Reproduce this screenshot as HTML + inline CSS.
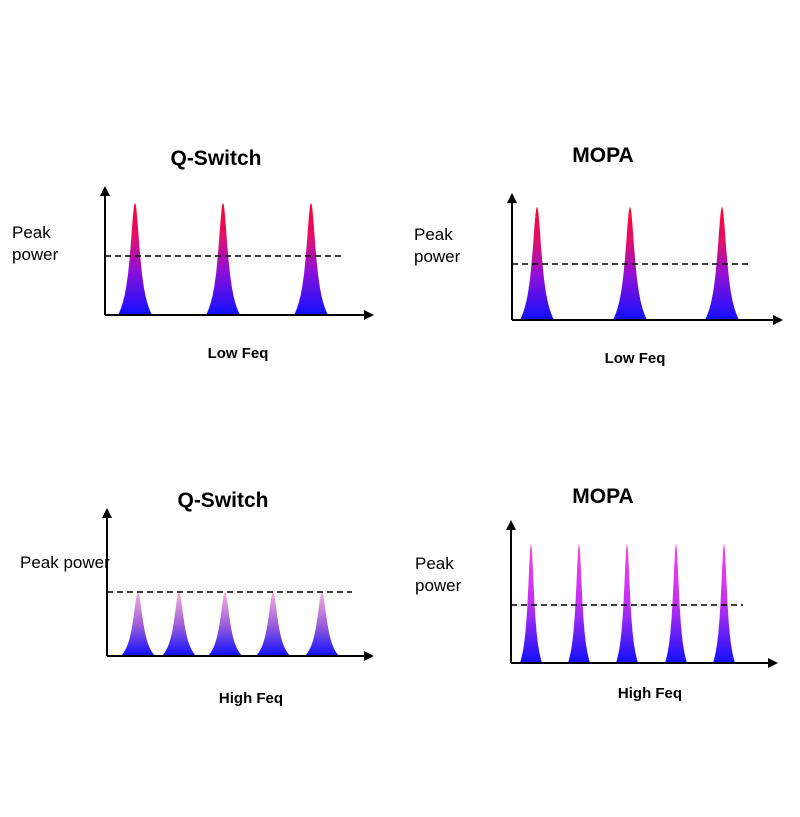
<!DOCTYPE html>
<html><head><meta charset="utf-8"><style>
body{margin:0;background:#fff}
svg{display:block}
text{font-family:"Liberation Sans",sans-serif}
.t{font-weight:bold;font-size:21px}
.x{font-weight:bold;font-size:15px}
.p{font-size:17px}
</style></head><body>
<svg id="s" width="800" height="817" viewBox="0 0 800 817">
<defs>
<linearGradient id="gr" x1="0" y1="0" x2="0" y2="1"><stop offset="0" stop-color="#ff0030"/><stop offset="0.3" stop-color="#e0106a"/><stop offset="0.6" stop-color="#9010d8"/><stop offset="1" stop-color="#1010ff"/></linearGradient>
<linearGradient id="gp" x1="0" y1="0" x2="0" y2="1"><stop offset="0" stop-color="#f5b0dc"/><stop offset="0.5" stop-color="#a060d8"/><stop offset="1" stop-color="#1010ff"/></linearGradient>
<linearGradient id="gm" x1="0" y1="0" x2="0" y2="1"><stop offset="0" stop-color="#ff40e8"/><stop offset="0.5" stop-color="#c030f0"/><stop offset="1" stop-color="#1010ff"/></linearGradient>
</defs>
<g id="peaks"></g>
<g stroke="#000" stroke-width="2" fill="none">
<path d="M105 315V192M105 315H368"/>
<path d="M512 320V199M512 320H777"/>
<path d="M107 656V514M107 656H368"/>
<path d="M511 663V526M511 663H772"/>
</g>
<g fill="#000">
<path d="M105 186l-5 10h10z"/><path d="M374 315l-10-5v10z"/>
<path d="M512 193l-5 10h10z"/><path d="M783 320l-10-5v10z"/>
<path d="M107 508l-5 10h10z"/><path d="M374 656l-10-5v10z"/>
<path d="M511 520l-5 10h10z"/><path d="M778 663l-10-5v10z"/>
</g>
<g stroke="#000" stroke-width="1.5" stroke-dasharray="6,4">
<path d="M105 256H345"/><path d="M512 264H752"/><path d="M107 592H352"/><path d="M511 605H743"/>
</g>
<text class="t" x="216" y="165" text-anchor="middle">Q-Switch</text>
<text class="t" x="603" y="162" text-anchor="middle">MOPA</text>
<text class="t" x="223" y="507" text-anchor="middle">Q-Switch</text>
<text class="t" x="603" y="503" text-anchor="middle">MOPA</text>
<text class="x" x="238" y="358" text-anchor="middle">Low Feq</text>
<text class="x" x="635" y="363" text-anchor="middle">Low Feq</text>
<text class="x" x="251" y="703" text-anchor="middle">High Feq</text>
<text class="x" x="650" y="698" text-anchor="middle">High Feq</text>
<text class="p" x="12" y="238">Peak</text><text class="p" x="12" y="260">power</text>
<text class="p" x="414" y="240">Peak</text><text class="p" x="414" y="262">power</text>
<text class="p" x="20" y="568">Peak power</text>
<text class="p" x="415" y="569">Peak</text><text class="p" x="415" y="591">power</text>
</svg>
<script>
var g=document.getElementById('peaks'),ns='http://www.w3.org/2000/svg';
function pk(cx,yb,yt,hw,fill){
 var pts=[],n=50,h=yb-yt;
 for(var i=-n;i<=n;i++){var u=i/n,x=cx+u*hw;var a=u*3;var y=yb-h/(1+a*a)*(1-Math.pow(Math.abs(u),3));pts.push(x.toFixed(1)+' '+y.toFixed(1));}
 var p=document.createElementNS(ns,'path');p.setAttribute('d','M'+pts.join('L')+'Z');p.setAttribute('fill','url(#'+fill+')');g.appendChild(p);}
[135,223,311].forEach(function(c){pk(c,315,203,17,'gr')});
[537,630,722].forEach(function(c){pk(c,320,207,17,'gr')});
[138,179,225,273,322].forEach(function(c){pk(c,656,592,17,'gp')});
[531,579,627,676,724].forEach(function(c){pk(c,663,544,11,'gm')});
</script>
</body></html>
